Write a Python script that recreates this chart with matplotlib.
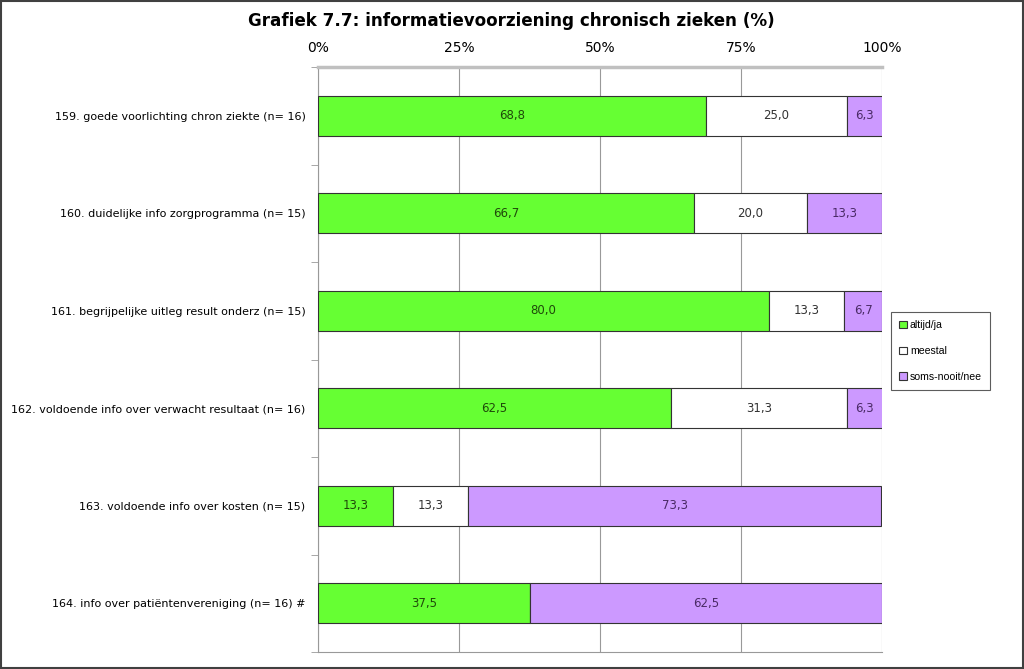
import matplotlib

matplotlib.use('Agg')

import matplotlib.pyplot as plt
from matplotlib.patches import Rectangle
from matplotlib.ticker import FixedLocator

categories = [
    "159. goede voorlichting chron ziekte (n= 16)",
    "160. duidelijke info zorgprogramma (n= 15)",
    "161. begrijpelijke uitleg result onderz (n= 15)",
    "162. voldoende info over verwacht resultaat (n= 16)",
    "163. voldoende info over kosten (n= 15)",
    "164. info over patiëntenvereniging (n= 16) #",
]
altijd = [68.8, 66.7, 80.0, 62.5, 13.3, 37.5]
meestal = [25.0, 20.0, 13.3, 31.3, 13.3, 0.0]
soms = [6.3, 13.3, 6.7, 6.3, 73.3, 62.5]

# name, values, fill colour, colour of the value labels
series = [
    ("altijd/ja", altijd, "#66FF33", "#1f4a0a"),
    ("meestal", meestal, "#FFFFFF", "#333333"),
    ("soms-nooit/nee", soms, "#CC99FF", "#4a2a66"),
]

fig = plt.figure(figsize=(10.24, 6.69), dpi=100)
ax = fig.add_axes([318 / 1024, 17 / 669, 564 / 1024, 585 / 669])

ypos = list(range(len(categories)))
left = [0.0] * len(categories)
for name, vals, color, tcolor in series:
    ax.barh(ypos, vals, left=left, height=0.41, color=color,
            edgecolor="#333333", linewidth=0.8, label=name, zorder=3)
    for y, v, l in zip(ypos, vals, left):
        if v > 0:
            ax.text(l + v / 2, y, f"{v:.1f}".replace(".", ","),
                    ha="center", va="center", fontsize=8.5, color=tcolor, zorder=4)
    left = [a + b for a, b in zip(left, vals)]

ax.set_xlim(0, 100)
ax.set_ylim(len(categories) - 0.5, -0.5)
ax.set_xticks([0, 25, 50, 75, 100])
ax.set_xticklabels(["0%", "25%", "50%", "75%", "100%"], fontsize=10)
ax.xaxis.tick_top()
ax.tick_params(axis="x", length=0, pad=8.5)
ax.grid(axis="x", color="#999999", linewidth=0.8, zorder=0)

ax.set_yticks(ypos)
ax.set_yticklabels(categories, fontsize=8)
ax.tick_params(axis="y", which="major", length=0, pad=9)
ax.yaxis.set_minor_locator(FixedLocator([i + 0.5 for i in range(-1, len(categories))]))
ax.tick_params(axis="y", which="minor", length=5, color="#999999", direction="out")

ax.spines["right"].set_visible(False)
ax.spines["left"].set_color("#999999")
ax.spines["bottom"].set_color("#999999")
ax.spines["top"].set_color("#c0c0c0")
ax.spines["top"].set_linewidth(2.5)

fig.suptitle("Grafiek 7.7: informatievoorziening chronisch zieken (%)",
             x=511 / 1024, y=1 - 21 / 669, va="center",
             fontsize=12.1, fontweight="bold")

leg = ax.legend(loc="center left", bbox_to_anchor=(891 / 1024, 1 - 351 / 669),
                bbox_transform=fig.transFigure, frameon=True, fancybox=False,
                prop={"family": "Liberation Sans", "size": 7.6},
                handlelength=0.7, handleheight=0.7, handletextpad=0.3,
                labelspacing=1.5, borderpad=0.8, borderaxespad=0,
                edgecolor="#333333")
leg.get_frame().set_linewidth(0.8)

fig.patches.append(Rectangle((0.001, 0.001), 0.998, 0.998, transform=fig.transFigure,
                             fill=False, edgecolor="#404040", linewidth=1.5))

plt.savefig("out.png", dpi=100)
